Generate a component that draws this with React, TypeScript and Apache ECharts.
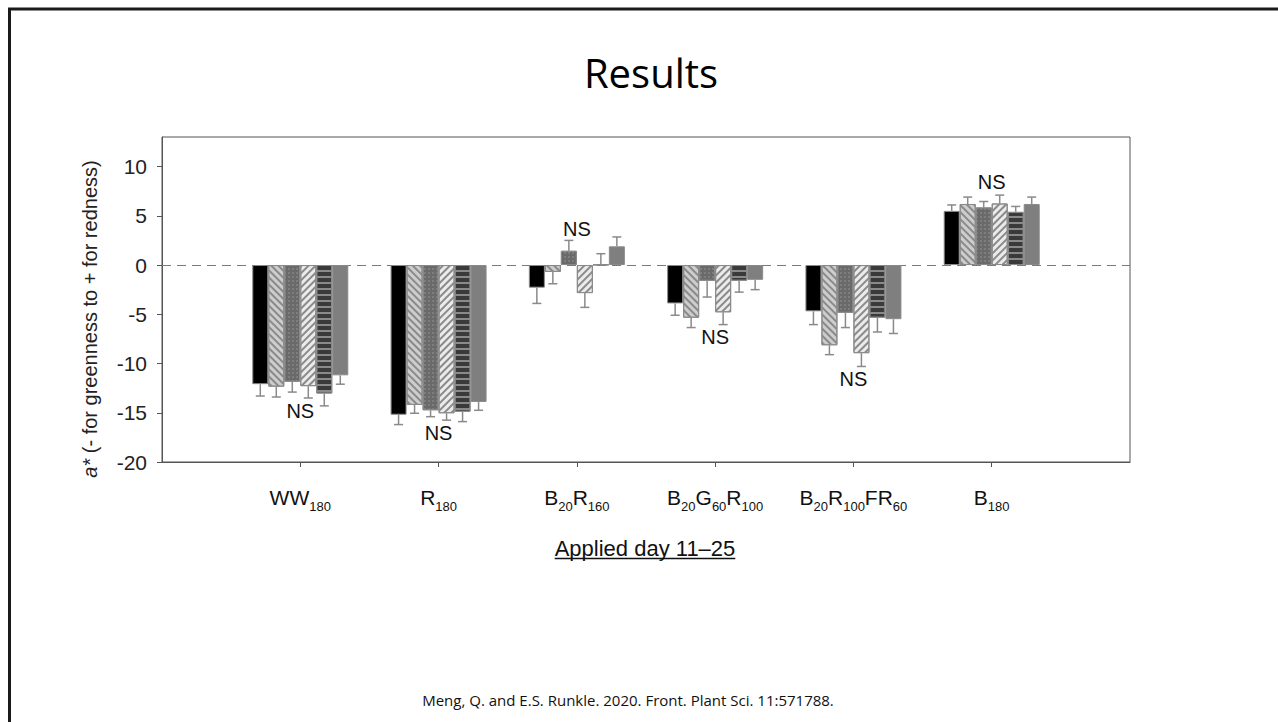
import React, { useEffect, useRef } from "react";
import * as echarts from "echarts";

// ---------- data ----------
const categories = ["WW180", "R180", "B20R160", "B20G60R100", "B20R100FR60", "B180"];
const categoryLabels = [
  "WW{s|180}",
  "R{s|180}",
  "B{s|20}R{s|160}",
  "B{s|20}G{s|60}R{s|100}",
  "B{s|20}R{s|100}FR{s|60}",
  "B{s|180}",
];
const seriesNames = ["Treatment 1", "Treatment 2", "Treatment 3", "Treatment 4", "Treatment 5", "Treatment 6"];

const values1 = [-12.1, -15.2, -2.3, -3.9, -4.7, 5.5];
const values2 = [-12.35, -14.2, -0.7, -5.35, -8.15, 6.2];
const values3 = [-11.85, -14.75, 1.45, -1.6, -4.85, 5.85];
const values4 = [-12.3, -15.05, -2.85, -4.8, -8.95, 6.25];
const values5 = [-13.05, -14.9, 0.05, -1.6, -5.35, 5.4];
const values6 = [-11.2, -13.9, 1.9, -1.5, -5.5, 6.2];

const errors1 = [1.2, 1.0, 1.6, 1.2, 1.35, 0.6];
const errors2 = [1.05, 0.85, 1.2, 1.0, 0.95, 0.7];
const errors3 = [1.05, 0.65, 1.05, 1.65, 1.5, 0.6];
const errors4 = [1.2, 0.7, 1.45, 1.25, 1.35, 0.85];
const errors5 = [1.25, 1.0, 1.1, 1.15, 1.45, 0.55];
const errors6 = [0.9, 0.85, 0.95, 1.0, 1.45, 0.7];

const nsLabelY = [-14.8, -17.1, 3.7, -7.3, -11.55, 8.4];
const yTicks = [-20, -15, -10, -5, 0, 5, 10];

const allValues = [values1, values2, values3, values4, values5, values6];
const allErrors = [errors1, errors2, errors3, errors4, errors5, errors6];

const FONT = "Liberation Sans";
const BAR_W = 16;

const seriesStyles: any[] = [
  { color: "#000000" },
  {
    color: "#cdcdcd",
    decal: { symbol: "rect", symbolSize: 1, dashArrayX: [1, 0], dashArrayY: [1.5, 2.5], rotation: Math.PI / 4, color: "#8a8a8a" },
  },
  {
    color: "#6a6a6a",
    decal: { symbol: "rect", symbolSize: 1, dashArrayX: [1.5, 1.5], dashArrayY: [1.5, 1.5], color: "#7e7e7e" },
  },
  {
    color: "#ebebeb",
    decal: { symbol: "rect", symbolSize: 1, dashArrayX: [1, 0], dashArrayY: [1.5, 3], rotation: -Math.PI / 4, color: "#8a8a8a" },
  },
  {
    color: "#3a3a3a",
    decal: { symbol: "rect", symbolSize: 1, dashArrayX: [1, 0], dashArrayY: [1.2, 3.8], color: "#8a8a8a" },
  },
  { color: "#7f7f7f" },
];

function measure(text: string, font: string): number {
  const c = document.createElement("canvas").getContext("2d");
  if (!c) return 180;
  c.font = font;
  return c.measureText(text).width;
}

export default function App() {
  const ref = useRef<HTMLDivElement>(null);

  useEffect(() => {
    if (!ref.current) return;
    const chart = echarts.init(ref.current, undefined, { renderer: "svg" });

    const axisData = ["", ...categoryLabels, ""];

    const barSeries = allValues.map((vals, s) => ({
      name: seriesNames[s],
      type: "bar",
      barWidth: BAR_W,
      barGap: "0%",
      data: ["-", ...vals, "-"],
      itemStyle: { ...seriesStyles[s], borderColor: "#8a8a8a", borderWidth: 1 },
      z: 3,
      ...(s === 0
        ? {
            markLine: {
              silent: true,
              symbol: ["none", "none"],
              label: { show: false },
              lineStyle: { type: [9, 6], color: "#7a7a7a", width: 1.2 },
              data: [{ yAxis: 0 }],
              z: 1,
            },
          }
        : {}),
    }));

    const errData: any[] = [];
    allValues.forEach((vals, s) => {
      vals.forEach((v, i) => errData.push([i + 1, v, allErrors[s][i], s]));
    });

    const option: any = {
      animation: false,
      backgroundColor: "#ffffff",
      grid: {
        left: 162,
        top: 137,
        width: 968,
        height: 325,
        show: true,
        borderColor: "#555",
        borderWidth: 1,
      },
      xAxis: {
        type: "category",
        data: axisData,
        boundaryGap: false,
        axisLine: { onZero: false, lineStyle: { color: "#555", width: 1 } },
        axisTick: {
          length: 5,
          interval: (i: number) => i > 0 && i < axisData.length - 1,
          lineStyle: { color: "#555" },
        },
        axisLabel: {
          interval: 0,
          margin: 20,
          color: "#111",
          fontFamily: FONT,
          fontSize: 21,
          rich: {
            s: { fontFamily: FONT, fontSize: 13, color: "#111", padding: [18, 0, 0, 0] },
          },
        },
        splitLine: { show: false },
      },
      yAxis: {
        type: "value",
        min: -20,
        max: 13,
        interval: 5,
        axisLine: { show: true, lineStyle: { color: "#555", width: 1 } },
        axisTick: { show: true, length: 5, customValues: yTicks, lineStyle: { color: "#555" } },
        axisLabel: { customValues: yTicks, margin: 15, color: "#222", fontFamily: FONT, fontSize: 21 },
        splitLine: { show: false },
      },
      series: [
        ...barSeries,
        {
          type: "custom",
          name: "error",
          data: errData,
          z: 4,
          silent: true,
          renderItem: (params: any, api: any) => {
            const cat = api.value(0);
            const v = api.value(1);
            const e = api.value(2);
            const s = api.value(3);
            const sign = v >= 0 ? 1 : -1;
            const p0 = api.coord([cat, v]);
            const p1 = api.coord([cat, v + sign * e]);
            const x = p0[0] + (s - 2.5) * BAR_W;
            const st = { stroke: "#8a8a8a", lineWidth: 1.5 };
            return {
              type: "group",
              children: [
                { type: "line", shape: { x1: x, y1: p0[1], x2: x, y2: p1[1] }, style: st },
                { type: "line", shape: { x1: x - 4.5, y1: p1[1], x2: x + 4.5, y2: p1[1] }, style: st },
              ],
            };
          },
        },
        {
          type: "custom",
          name: "NS",
          data: nsLabelY.map((y, i) => [i + 1, y]),
          z: 5,
          silent: true,
          renderItem: (params: any, api: any) => {
            const p = api.coord([api.value(0), api.value(1)]);
            return {
              type: "text",
              x: p[0],
              y: p[1],
              style: {
                text: "NS",
                fill: "#111",
                fontFamily: FONT,
                fontSize: 20,
                textAlign: "center",
                textVerticalAlign: "middle",
              },
            };
          },
        },
      ],
      graphic: [],
    };

    const xName = "Applied day 11\u201325";
    const xNameFont = `22px "${FONT}"`;
    const wName = measure(xName, xNameFont);
    const cx = 645;

    option.graphic = [
      { type: "line", shape: { x1: 8, y1: 9, x2: 1278, y2: 9 }, style: { stroke: "#1a1a1a", lineWidth: 3 } },
      { type: "line", shape: { x1: 9.5, y1: 8, x2: 9.5, y2: 722 }, style: { stroke: "#1a1a1a", lineWidth: 3 } },
      {
        type: "text",
        x: 651,
        y: 72,
        style: {
          text: "Results",
          fill: "#000",
          fontFamily: "Open Sans",
          fontSize: 40,
          textAlign: "center",
          textVerticalAlign: "middle",
        },
      },
      {
        type: "text",
        x: 90,
        y: 319,
        rotation: Math.PI / 2,
        style: {
          text: "{i|a*} (- for greenness to + for redness)",
          fill: "#222",
          fontFamily: FONT,
          fontSize: 20,
          textAlign: "center",
          textVerticalAlign: "middle",
          rich: { i: { fontStyle: "italic", fontFamily: FONT, fontSize: 20, fill: "#222" } },
        },
      },
      {
        type: "text",
        x: cx,
        y: 548,
        style: {
          text: xName,
          fill: "#111",
          fontFamily: FONT,
          fontSize: 22,
          textAlign: "center",
          textVerticalAlign: "middle",
        },
      },
      {
        type: "line",
        shape: { x1: cx - wName / 2, y1: 558.5, x2: cx + wName / 2, y2: 558.5 },
        style: { stroke: "#111", lineWidth: 1.3 },
      },
      {
        type: "text",
        x: 628,
        y: 700,
        style: {
          text: "Meng, Q. and E.S. Runkle. 2020. Front. Plant Sci. 11:571788.",
          fill: "#111",
          fontFamily: "Open Sans",
          fontSize: 15,
          textAlign: "center",
          textVerticalAlign: "middle",
        },
      },
    ];

    chart.setOption(option);
    return () => chart.dispose();
  }, []);

  return (
    <div
      ref={ref}
      style={{ position: "fixed", left: 0, top: 0, width: 1278, height: 722, background: "#fff" }}
    />
  );
}
